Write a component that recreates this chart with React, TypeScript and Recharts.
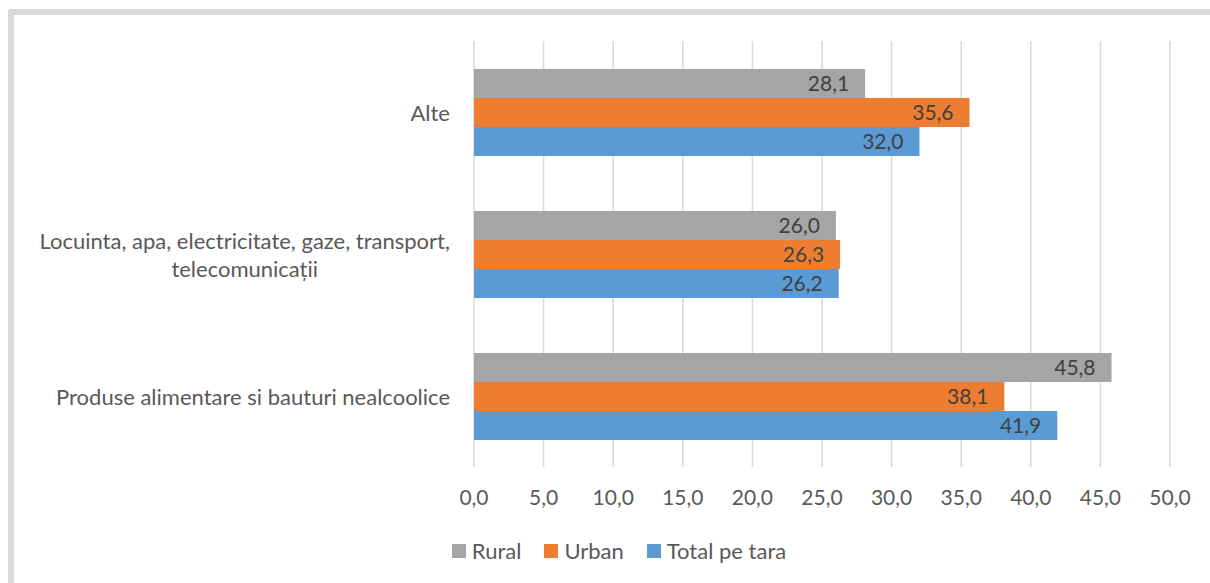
import React from "react";
import { BarChart, Bar, XAxis, YAxis, CartesianGrid, Legend, LabelList } from "recharts";

const categories = [
  "Alte",
  "Locuinta, apa, electricitate, gaze, transport, telecomunicații",
  "Produse alimentare si bauturi nealcoolice",
];
const rural = [28.1, 26.0, 45.8];
const urban = [35.6, 26.3, 38.1];
const total = [32.0, 26.2, 41.9];
const xTicks = [0, 5, 10, 15, 20, 25, 30, 35, 40, 45, 50];
const seriesOrder = ["rural", "urban", "total"];
const seriesNames: Record<string, string> = { rural: "Rural", urban: "Urban", total: "Total pe tara" };

const data = categories.map((name, i) => ({
  name,
  rural: rural[i],
  urban: urban[i],
  total: total[i],
}));

const FONT = "Lato, 'Open Sans', sans-serif";
const FS = 21;
const FS_CAT = 22;
const TEXT = "#595959";

const fmt = (v: any) => Number(v).toFixed(1).replace(".", ",");

let ctx: CanvasRenderingContext2D | null = null;
function measure(s: string): number {
  if (!ctx) {
    const c = document.createElement("canvas");
    ctx = c.getContext("2d");
  }
  if (!ctx) return s.length * FS_CAT * 0.5;
  ctx.font = `${FS_CAT}px Lato`;
  return ctx.measureText(s).width;
}

function wrap(text: string, maxW: number): string[] {
  const words = text.split(" ");
  const lines: string[] = [];
  let cur = "";
  for (const w of words) {
    const t = cur ? cur + " " + w : w;
    if (measure(t) > maxW && cur) {
      lines.push(cur);
      cur = w;
    } else cur = t;
  }
  if (cur) lines.push(cur);
  return lines;
}

const CatTick = (props: any) => {
  const { x, y, payload } = props;
  const lines = wrap(String(payload.value), 440);
  const maxW = Math.max(...lines.map(measure));
  const cx = x - maxW / 2;
  const lh = 28;
  const startY = y - ((lines.length - 1) * lh) / 2;
  return (
    <text x={cx} y={startY} textAnchor="middle" fill={TEXT} fontSize={FS_CAT} fontFamily={FONT} dominantBaseline="central">
      {lines.map((l, i) => (
        <tspan key={i} x={cx} y={startY + i * lh} dominantBaseline="central">
          {l}
        </tspan>
      ))}
    </text>
  );
};

const LegendContent = (props: any) => {
  const items = [...(props.payload || [])].sort(
    (a: any, b: any) => seriesOrder.indexOf(a.dataKey) - seriesOrder.indexOf(b.dataKey)
  );
  return (
    <div style={{ display: "flex", justifyContent: "center", alignItems: "center", fontFamily: FONT, fontSize: FS_CAT, color: TEXT, lineHeight: "28px" }}>
      {items.map((it: any, i: number) => (
        <div key={i} style={{ display: "flex", alignItems: "center", marginLeft: i === 0 ? 0 : 23 }}>
          <span style={{ width: 14, height: 14, background: it.color, display: "inline-block", marginRight: 6 }} />
          <span>{it.value}</span>
        </div>
      ))}
    </div>
  );
};

export default function App() {
  return (
    <div style={{ position: "absolute", left: 0, top: 0, width: 1210, height: 583, overflow: "hidden", background: "#fff" }}>
      <div
        style={{
          position: "absolute",
          left: 8,
          top: 9,
          width: 1260,
          height: 620,
          borderTop: "6px solid #d9d9d9",
          borderLeft: "6px solid #d9d9d9",
          borderTopLeftRadius: 3,
          boxSizing: "border-box",
        }}
      />
      <div style={{ position: "absolute", left: 0, top: 0 }}>
        <BarChart
          width={1210}
          height={583}
          data={data}
          layout="vertical"
          margin={{ top: 41, right: 40, left: 0, bottom: 56 }}
          barGap={0}
          barSize={29}
        >
          <CartesianGrid horizontal={false} stroke="#d9d9d9" strokeWidth={1.5} />
          <XAxis
            type="number"
            domain={[0, 50]}
            ticks={xTicks}
            tickFormatter={fmt}
            axisLine={false}
            tickLine={false}
            tickSize={0}
            tickMargin={23}
            height={60}
            interval={0}
            tick={{ fill: TEXT, fontSize: FS, fontFamily: FONT }}
          />
          <YAxis
            type="category"
            dataKey="name"
            width={474}
            axisLine={false}
            tickLine={false}
            tickSize={0}
            tickMargin={24}
            interval={0}
            tick={<CatTick />}
          />
          <Legend
            layout="horizontal"
            verticalAlign="middle"
            align="center"
            content={<LegendContent />}
            wrapperStyle={{ top: 537, left: 28, width: 1182, height: 28 }}
          />
          <Bar dataKey="rural" name={seriesNames.rural} fill="#a5a5a5" isAnimationActive={false}>
            <LabelList dataKey="rural" position="insideRight" offset={16} formatter={fmt} fill="#404040" fontSize={FS} fontFamily={FONT} />
          </Bar>
          <Bar dataKey="urban" name={seriesNames.urban} fill="#ed7d31" isAnimationActive={false}>
            <LabelList dataKey="urban" position="insideRight" offset={16} formatter={fmt} fill="#404040" fontSize={FS} fontFamily={FONT} />
          </Bar>
          <Bar dataKey="total" name={seriesNames.total} fill="#5b9bd5" isAnimationActive={false}>
            <LabelList dataKey="total" position="insideRight" offset={16} formatter={fmt} fill="#404040" fontSize={FS} fontFamily={FONT} />
          </Bar>
        </BarChart>
      </div>
    </div>
  );
}
